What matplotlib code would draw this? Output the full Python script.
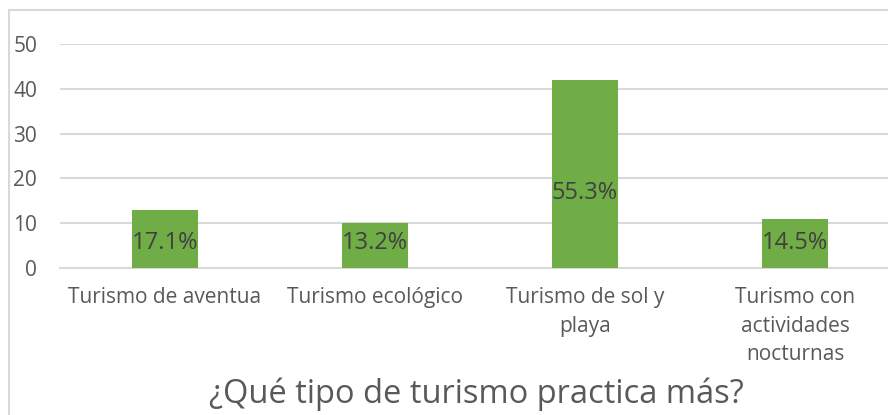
import matplotlib.pyplot as plt
from matplotlib.patches import Rectangle

categorias = ["Turismo de aventua", "Turismo ecológico", "Turismo de sol y\nplaya",
              "Turismo con\nactividades\nnocturnas"]
valores = [13, 10, 42, 11]
etiquetas = ["17.1%", "13.2%", "55.3%", "14.5%"]
pos_etiqueta = [5.6, 5.6, 16.7, 5.6]
yticks = [0, 10, 20, 30, 40, 50]

plt.rcParams['font.family'] = ['Open Sans', 'DejaVu Sans']
gris = '#595959'

fig = plt.figure(figsize=(8.88, 4.15), dpi=100)
ax = fig.add_axes([60/888, 147/415, 840/888, 224/415])

x = range(len(categorias))
ax.bar(x, valores, width=0.314, color='#70ad47', zorder=3)
for xi, txt, yy in zip(x, etiquetas, pos_etiqueta):
    ax.text(xi, yy, txt, ha='center', va='center', fontsize=17, color='#404040', zorder=4)

ax.set_xlim(-0.5, len(categorias) - 0.5)
ax.set_ylim(0, 50)
ax.set_yticks(yticks)
ax.set_xticks(list(x))
ax.set_xticklabels(categorias, fontsize=15, color=gris, linespacing=1.45, va='top')
ax.tick_params(axis='y', length=0, pad=16.5, labelsize=15, labelcolor=gris)
ax.tick_params(axis='x', length=0, pad=14)
ax.grid(axis='y', color='#d9d9d9', linewidth=1.5, zorder=0)
for s in ['top', 'right', 'left']:
    ax.spines[s].set_visible(False)
ax.spines['bottom'].set_color('#d9d9d9')
ax.spines['bottom'].set_linewidth(1.5)

fig.text(476/888, 1 - 394/415, "¿Qué tipo de turismo practica más?", ha='center', va='center',
         fontsize=23.5, color=gris)

fig.patches.append(Rectangle((9/888, -0.1), 1.2, 1 - 10/415 + 0.1, transform=fig.transFigure,
                             fill=False, edgecolor='#d9d9d9', linewidth=1.5))

fig.savefig("out.png", dpi=100)
